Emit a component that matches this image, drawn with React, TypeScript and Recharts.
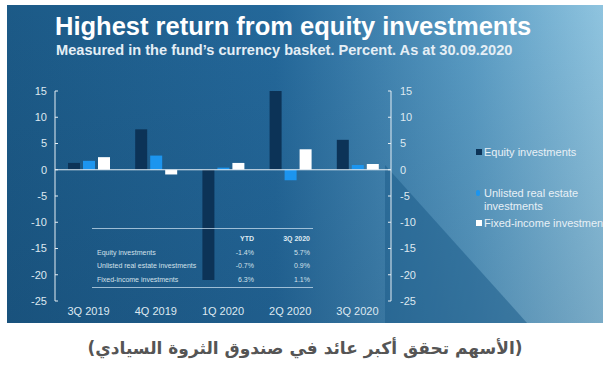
import React from 'react'
import { ComposedChart, Bar, Line, XAxis, YAxis, ReferenceLine } from 'recharts'

const quarters = ['3Q 2019', '4Q 2019', '1Q 2020', '2Q 2020', '3Q 2020']
const equity = [1.3, 7.7, -21.0, 15.0, 5.7]
const realEstate = [1.7, 2.7, 0.4, -2.0, 0.9]
const fixedIncome = [2.4, -0.9, 1.3, 3.9, 1.1]
const yTicks = [-25, -20, -15, -10, -5, 0, 5, 10, 15]

const tableLabels = ['Equity investments', 'Unlisted real estate investments', 'Fixed-income investments']
const tableYtd = ['-1.4%', '-0.7%', '6.3%']
const tableQ3 = ['5.7%', '0.9%', '1.1%']

const seriesNames = ['Equity investments', 'Unlisted real estate investments', 'Fixed-income investments']
const seriesColors = ['#0c3357', '#1c95ef', '#ffffff']

const data = quarters.map((q, i) => ({
  name: q,
  equity: equity[i],
  realEstate: realEstate[i],
  fixedIncome: fixedIncome[i],
}))

const FONT = '"Liberation Sans", Arial, sans-serif'
const AXIS = '#e6eef4'
const tick = { fontSize: 11, fill: '#dde8f0', fontFamily: FONT }

// tick mark drawn inside the plot, label outside
function SideTick(props: any) {
  const { x, y, payload, side } = props
  const d = side === 'left' ? 1 : -1
  return (
    <g>
      <line x1={x} y1={y} x2={x + d * 3} y2={y} stroke={AXIS} />
      <text
        x={side === 'left' ? x - 8 : x + 9}
        y={y}
        dy="0.355em"
        textAnchor={side === 'left' ? 'end' : 'start'}
        fontSize={11}
        fill="#dde8f0"
        fontFamily={FONT}
      >
        {payload.value}
      </text>
    </g>
  )
}

export default function App() {
  return (
    <div style={{ position: 'absolute', left: 0, top: 0, width: 610, height: 370, background: '#fff', overflow: 'hidden' }}>
      {/* blue panel */}
      <div
        style={{
          position: 'absolute', left: 7, top: 5, width: 596, height: 318, overflow: 'hidden',
          background: 'linear-gradient(90deg, #1c5a87 0%, #24689a 45%, #5a9cc4 78%, #8fc4df 100%)',
        }}
      >
        <div
          style={{
            position: 'absolute', left: 0, top: 0, width: 596, height: 318,
            background: 'linear-gradient(180deg, rgba(10,40,70,0) 0%, rgba(10,40,70,0.16) 100%)',
          }}
        />
        <div
          style={{
            position: 'absolute', left: 378, top: 160, width: 142, height: 158,
            background: 'rgba(30,92,138,0.55)',
            clipPath: 'polygon(0 0, 100% 100%, 0 100%)',
          }}
        />
        {/* legend, clipped by the panel */}
        {seriesNames.map((n, i) => {
          const tops = [141, 182, 212]
          const text = i === 1 ? ['Unlisted real estate', 'investments'] : [n]
          return (
            <div key={n} style={{ position: 'absolute', left: 469, top: tops[i], fontFamily: FONT, fontSize: 11, color: '#e8f0f6', lineHeight: '13px', whiteSpace: 'nowrap' }}>
              <span
                style={{
                  position: 'absolute', left: 0, top: 3,
                  width: i === 1 ? 4 : 6, height: 6,
                  background: seriesColors[i],
                  borderRadius: i === 1 ? 2 : 0,
                }}
              />
              <div style={{ marginLeft: 8 }}>
                {text.map((t) => <div key={t}>{t}</div>)}
              </div>
            </div>
          )
        })}
      </div>

      <div style={{ position: 'absolute', left: 55, top: 12, color: '#fff', fontFamily: FONT, fontWeight: 700, fontSize: 25.5, whiteSpace: 'nowrap' }}>
        Highest return from equity investments
      </div>
      <div style={{ position: 'absolute', left: 56, top: 42, color: '#e4eef5', fontFamily: FONT, fontWeight: 700, fontSize: 14.6, whiteSpace: 'nowrap' }}>
        Measured in the fund’s currency basket. Percent. As at 30.09.2020
      </div>

      <ComposedChart
        width={610}
        height={370}
        data={data}
        margin={{ top: 91, right: 179, bottom: 49, left: 15 }}
        barSize={12}
        barGap={3}
        style={{ position: 'absolute', left: 0, top: 0 }}
      >
        <XAxis
          dataKey="name"
          axisLine={false}
          tickLine={false}
          tickSize={0}
          tickMargin={6}
          height={20}
          tick={tick}
          interval={0}
        />
        <YAxis
          yAxisId="left"
          orientation="left"
          domain={[-25, 15]}
          ticks={yTicks}
          width={40}
          axisLine={{ stroke: AXIS }}
          tickLine={false}
          tickSize={0}
          tickMargin={0}
          tick={<SideTick side="left" />}
          interval={0}
        />
        <YAxis
          yAxisId="right"
          orientation="right"
          domain={[-25, 15]}
          ticks={yTicks}
          width={40}
          axisLine={{ stroke: AXIS }}
          tickLine={false}
          tickSize={0}
          tickMargin={0}
          tick={<SideTick side="right" />}
          interval={0}
        />
        <ReferenceLine yAxisId="left" y={0} stroke={AXIS} strokeWidth={1} />
        <Bar yAxisId="left" dataKey="equity" fill={seriesColors[0]} isAnimationActive={false} />
        <Bar yAxisId="left" dataKey="realEstate" fill={seriesColors[1]} isAnimationActive={false} />
        <Bar yAxisId="left" dataKey="fixedIncome" fill={seriesColors[2]} isAnimationActive={false} />
        {/* invisible series so the right axis has data to build its ticks */}
        <Line yAxisId="right" dataKey="equity" stroke="none" dot={false} activeDot={false} legendType="none" isAnimationActive={false} />
      </ComposedChart>

      {/* table */}
      <div style={{ position: 'absolute', left: 92, top: 228, width: 221, height: 0, borderTop: '1px solid rgba(200,222,238,0.75)' }} />
      <div style={{ position: 'absolute', left: 92, top: 287, width: 221, height: 0, borderTop: '1px solid rgba(200,222,238,0.75)' }} />
      <div style={{ position: 'absolute', left: 230, top: 235, width: 24, textAlign: 'right', fontFamily: FONT, fontSize: 7, fontWeight: 700, color: '#dfeaf2' }}>YTD</div>
      <div style={{ position: 'absolute', left: 270, top: 235, width: 40, textAlign: 'right', fontFamily: FONT, fontSize: 7, fontWeight: 700, color: '#dfeaf2' }}>3Q 2020</div>
      {tableLabels.map((l, i) => (
        <React.Fragment key={l}>
          <div style={{ position: 'absolute', left: 97, top: 249 + i * 13.3, fontFamily: FONT, fontSize: 7, color: '#d2e0ea', whiteSpace: 'nowrap' }}>{l}</div>
          <div style={{ position: 'absolute', left: 220, top: 249 + i * 13.3, width: 34, textAlign: 'right', fontFamily: FONT, fontSize: 7, color: '#d2e0ea' }}>{tableYtd[i]}</div>
          <div style={{ position: 'absolute', left: 270, top: 249 + i * 13.3, width: 40, textAlign: 'right', fontFamily: FONT, fontSize: 7, color: '#d2e0ea' }}>{tableQ3[i]}</div>
        </React.Fragment>
      ))}

      {/* caption */}
      <div dir="rtl" style={{ position: 'absolute', left: 0, top: 338, width: 610, textAlign: 'center', fontFamily: '"DejaVu Sans", sans-serif', fontWeight: 700, fontSize: 17, color: '#555' }}>
        (الأسهم تحقق أكبر عائد في صندوق الثروة السيادي)
      </div>
    </div>
  )
}
